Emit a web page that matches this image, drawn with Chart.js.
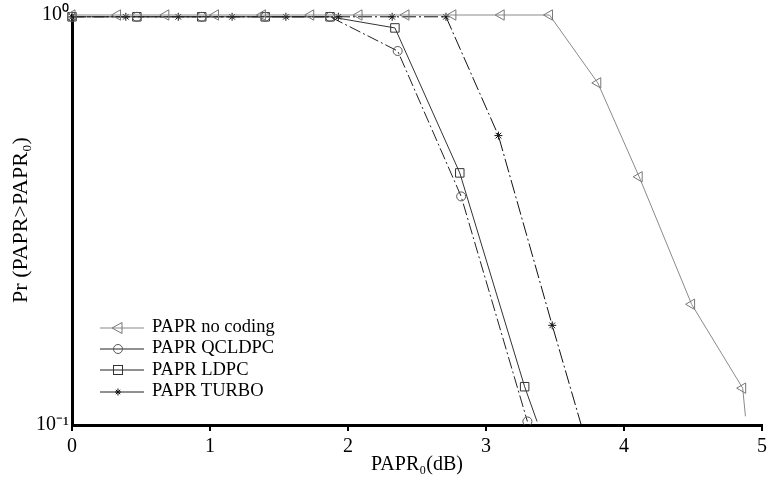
<!DOCTYPE html>
<html>
<head>
<meta charset="utf-8">
<script src="https://cdn.jsdelivr.net/npm/chart.js@4.4.1/dist/chart.umd.min.js"></script>
<style>
  body { margin: 0; background: #fff; }
  #wrap { position: relative; width: 769px; height: 489px; }
  #legend { position: absolute; left: 98px; top: 316px; font-family: "Liberation Serif", serif; font-size: 18.5px; color: #000; }
  #legend div { height: 21.3px; line-height: 21.3px; white-space: nowrap; }
  #legend svg { vertical-align: middle; margin-right: 8px; }
</style>
</head>
<body>
<div id="wrap">
  <canvas id="myChart" width="769" height="489"></canvas>
  <div id="legend"></div>
</div>
<script>
// PAPR0 in dB (x) and Pr(PAPR>PAPR0) (y)
var noCodingX = [0, 0.33, 0.68, 1.04, 1.38, 1.73, 2.08, 2.42, 2.76, 3.11, 3.46, 3.81, 4.11, 4.49, 4.86, 4.88];
var noCodingY = [1, 1, 1, 1, 1, 1, 1, 1, 1, 1, 1, 0.683, 0.403, 0.197, 0.123, 0.105];

var qcldpcX = [0, 0.47, 0.94, 1.40, 1.87, 2.36, 2.82, 3.30];
var qcldpcY = [0.99, 0.99, 0.99, 0.99, 0.99, 0.817, 0.361, 0.102];

var ldpcX = [0, 0.47, 0.94, 1.40, 1.87, 2.34, 2.81, 3.28, 3.37];
var ldpcY = [0.99, 0.99, 0.99, 0.99, 0.99, 0.93, 0.412, 0.124, 0.102];

var turboX = [0, 0.39, 0.77, 1.16, 1.55, 1.93, 2.32, 2.71, 3.09, 3.48, 3.69];
var turboY = [0.99, 0.99, 0.99, 0.99, 0.99, 0.99, 0.99, 0.99, 0.508, 0.175, 0.1];

var xTicks = [0, 1, 2, 3, 4, 5];
var yTickLabels = { 1: '10\u2070', 0.1: '10\u207B\u00B9' };

function toPoints(xs, ys) {
    var pts = [];
    for (var i = 0; i < xs.length; i++) {
        pts.push({x: xs[i], y: ys[i]});
    }
    return pts;
}

// last point of some series is only where the line leaves the plot, no marker
function radiusNoLast(r, n) {
    return function (ctx) { return ctx.dataIndex === n - 1 ? 0 : r; };
}

var clipBox = {left: 5, top: false, right: 5, bottom: 0};

var datasets = [
    {
        label: 'PAPR no coding',
        data: toPoints(noCodingX, noCodingY),
        borderColor: '#8a8a8a',
        pointBorderColor: '#777',
        pointStyle: 'triangle',
        rotation: -90,
        pointRadius: radiusNoLast(6, noCodingX.length),
        borderWidth: 1
    },
    {
        label: 'PAPR QCLDPC',
        data: toPoints(qcldpcX, qcldpcY),
        borderColor: '#222',
        pointBorderColor: '#555',
        pointStyle: 'circle',
        pointRadius: 4.5,
        borderWidth: 1,
        borderDash: [12, 3, 2, 3]
    },
    {
        label: 'PAPR LDPC',
        data: toPoints(ldpcX, ldpcY),
        borderColor: '#333',
        pointBorderColor: '#333',
        pointStyle: 'rect',
        pointRadius: radiusNoLast(6, ldpcX.length),
        borderWidth: 1
    },
    {
        label: 'PAPR TURBO',
        data: toPoints(turboX, turboY),
        borderColor: '#111',
        pointBorderColor: '#111',
        pointStyle: 'star',
        pointRadius: radiusNoLast(4, turboX.length),
        borderWidth: 1,
        borderDash: [14, 3, 2, 3]
    }
];

datasets.forEach(function (d) {
    d.showLine = true;
    d.fill = false;
    d.backgroundColor = 'rgba(0,0,0,0)';
    d.pointBackgroundColor = 'rgba(0,0,0,0)';
    d.pointBorderWidth = 1;
    d.tension = 0;
    d.clip = clipBox;
});

var serif = '"Liberation Serif", "Times New Roman", serif';

var ctx = document.getElementById('myChart').getContext('2d');
var chart = new Chart(ctx, {
    type: 'scatter',
    data: { datasets: datasets },
    options: {
        responsive: false,
        animation: false,
        devicePixelRatio: 1,
        layout: { padding: { top: 14, right: 0, left: 8, bottom: 12 } },
        plugins: {
            legend: { display: false },
            tooltip: { enabled: false }
        },
        scales: {
            x: {
                type: 'linear',
                min: 0,
                max: 5,
                afterBuildTicks: function (scale) {
                    scale.ticks = xTicks.map(function (v) { return {value: v}; });
                },
                afterFit: function (scale) {
                    scale.height = 52;
                    scale.paddingLeft = 0;
                    scale.paddingRight = 4;
                },
                border: { display: true, color: '#000', width: 3 },
                grid: { drawOnChartArea: false, drawTicks: true, tickLength: 6, color: '#000', lineWidth: 2 },
                ticks: {
                    color: '#000',
                    padding: 4,
                    maxRotation: 0,
                    font: { family: serif, size: 20 }
                },
                title: {
                    display: true,
                    text: 'PAPR\u2080(dB)',
                    color: '#000',
                    padding: { top: 0, bottom: 0 },
                    font: { family: serif, size: 20 }
                }
            },
            y: {
                type: 'logarithmic',
                min: 0.1,
                max: 1,
                afterBuildTicks: function (scale) {
                    scale.ticks = [{value: 0.1}, {value: 1}];
                },
                afterFit: function (scale) { scale.width = 64; },
                border: { display: true, color: '#000', width: 3 },
                grid: { display: false, drawTicks: false },
                ticks: {
                    color: '#000',
                    padding: 3,
                    autoSkip: false,
                    font: { family: serif, size: 20 },
                    callback: function (v) { return yTickLabels[v] || ''; }
                },
                title: {
                    display: true,
                    text: 'Pr (PAPR>PAPR\u2080)',
                    color: '#000',
                    padding: { top: 0, bottom: 0 },
                    font: { family: serif, size: 22 }
                }
            }
        }
    }
});

// legend drawn inside the plot like the original figure
var symbols = {
    triangle: '<polygon points="14,11 24,5.5 24,16.5" fill="none" stroke="#777"/>',
    circle: '<circle cx="20" cy="11" r="4.5" fill="none" stroke="#555"/>',
    rect: '<rect x="15.5" y="6.5" width="9" height="9" fill="none" stroke="#333"/>',
    star: '<path d="M20 7.5V14.5M17 11H23M17.8 8.8L22.2 13.2M22.2 8.8L17.8 13.2" stroke="#111"/>'
};
var legendHtml = '';
datasets.forEach(function (d) {
    var col = d.label === 'PAPR no coding' ? '#8a8a8a' : '#222';
    legendHtml += '<div><svg width="46" height="22"><line x1="2" y1="11" x2="46" y2="11" stroke="' + col + '"/>' +
        symbols[d.pointStyle] + '</svg>' + d.label + '</div>';
});
document.getElementById('legend').innerHTML = legendHtml;
</script>
</body>
</html>
